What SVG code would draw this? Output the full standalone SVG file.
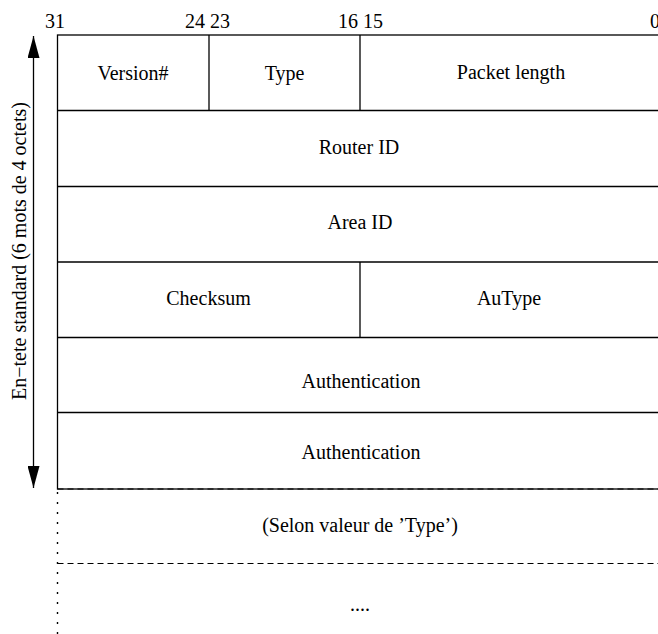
<svg xmlns="http://www.w3.org/2000/svg" width="658" height="634" viewBox="0 0 658 634">
<defs>
<style>
text{font-family:"Liberation Serif","Times New Roman",serif;font-size:20px;fill:#000}
.c{text-anchor:middle}
.ln{stroke:#000;stroke-width:1.3;fill:none}
.dash{stroke:#000;stroke-width:1.2;stroke-dasharray:6 4;fill:none}
.dot{stroke:#000;stroke-width:1.4;stroke-dasharray:2 8;fill:none}
</style>
<marker id="ah" viewBox="0 0 22 12" refX="22" refY="6" markerWidth="22" markerHeight="12" markerUnits="userSpaceOnUse" orient="auto">
<path d="M0,0 L22,6 L0,12 Z" fill="#000"/>
</marker>
</defs>
<rect width="658" height="634" fill="#fff"/>
<g id="bits">
<text x="45" y="28">31</text>
<text x="185" y="28">24 23</text>
<text x="338" y="28">16 15</text>
<text x="650" y="28">0</text>
</g>
<g id="frame">
<rect class="ln" x="57.5" y="35" width="605" height="454"/>
<line class="ln" x1="57.5" y1="110.5" x2="662.5" y2="110.5"/>
<line class="ln" x1="57.5" y1="186.5" x2="662.5" y2="186.5"/>
<line class="ln" x1="57.5" y1="262" x2="662.5" y2="262"/>
<line class="ln" x1="57.5" y1="337.5" x2="662.5" y2="337.5"/>
<line class="ln" x1="57.5" y1="412.5" x2="662.5" y2="412.5"/>
<line class="ln" x1="209" y1="35" x2="209" y2="110.5"/>
<line class="ln" x1="360" y1="35" x2="360" y2="110.5"/>
<line class="ln" x1="360" y1="262" x2="360" y2="337.5"/>
</g>
<g id="version"><text class="c" x="133" y="80">Version#</text></g>
<g id="type"><text class="c" x="284.5" y="80">Type</text></g>
<g id="packet-length"><text class="c" x="511" y="79">Packet length</text></g>
<g id="router-id"><text class="c" x="359" y="154">Router ID</text></g>
<g id="area-id"><text class="c" x="360" y="229">Area ID</text></g>
<g id="checksum"><text class="c" x="208.5" y="305">Checksum</text></g>
<g id="autype"><text class="c" x="509" y="305">AuType</text></g>
<g id="auth1"><text class="c" x="361" y="388">Authentication</text></g>
<g id="auth2"><text class="c" x="361" y="459">Authentication</text></g>
<g id="variable">
<line class="dash" x1="57.5" y1="489" x2="662.5" y2="489"/>
<line class="dash" x1="57.5" y1="563.5" x2="662.5" y2="563.5"/>
<line class="dot" x1="57.5" y1="492" x2="57.5" y2="634"/>
<text class="c" x="360" y="532">(Selon valeur de ’Type’)</text>
<text class="c" x="360" y="611">....</text>
</g>
<g id="connectors">
<line class="ln" x1="33.5" y1="262" x2="33.5" y2="36" marker-end="url(#ah)"/>
<line class="ln" x1="33.5" y1="262" x2="33.5" y2="488" marker-end="url(#ah)"/>
</g>
<g id="header-label">
<text class="c" transform="translate(26 251) rotate(-90)">En−tete standard (6 mots de 4 octets)</text>
</g>
</svg>
